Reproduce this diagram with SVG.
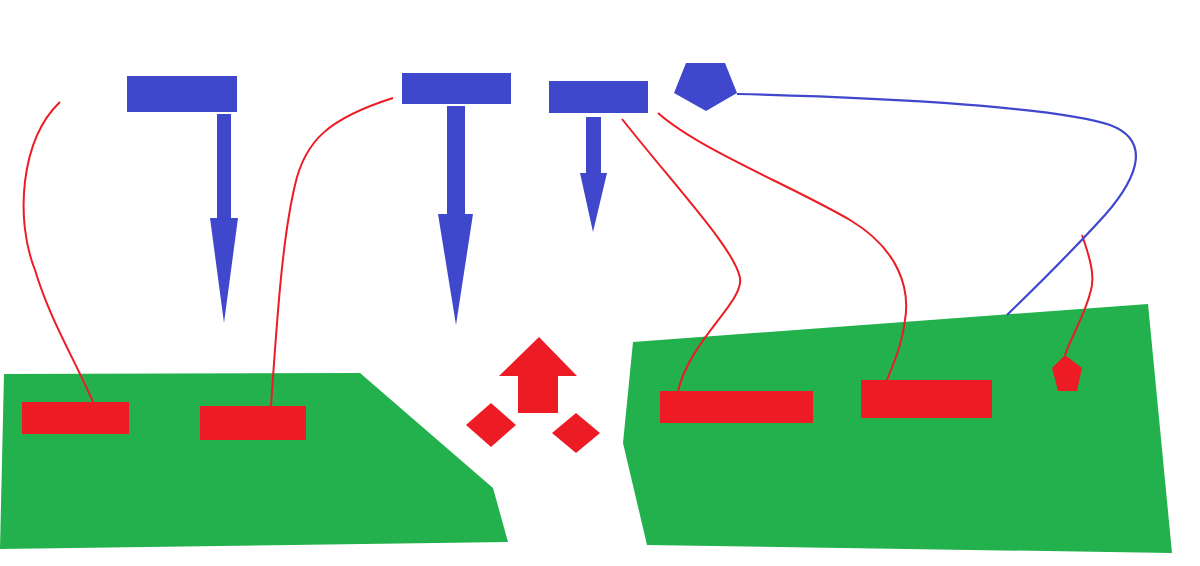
<svg xmlns="http://www.w3.org/2000/svg" width="1200" height="566" viewBox="0 0 1200 566">
<style>
.g{fill:#22B14C}
.r{fill:#ED1C24}
.b{fill:#3F48CC}
.rl{fill:none;stroke:#ED1C24;stroke-width:2}
.bl{fill:none;stroke:#3F48CC;stroke-width:2.2}
</style>
<rect width="1200" height="566" fill="#fff"/>
<g id="ground-left"><polygon class="g" points="4,374 360,373 493,488 508,542 0,549"/></g>
<g id="ground-right"><polygon class="g" points="633,342 1148,304 1172,553 647,545 623,443"/></g>
<g id="connectors">
<path class="rl" d="M60,102 C20,140 15,220 35,270 C50,320 75,360 93,402"/>
<path class="rl" d="M393,98 C330,118 305,140 295,185 C282,240 277,320 271,406"/>
<path class="rl" d="M622,119 C680,192 735,250 740,278 C744,302 690,340 678,391"/>
<path class="rl" d="M658,113 C700,150 790,185 850,220 C900,250 910,290 905,320 C902,345 893,365 887,380"/>
<path class="rl" d="M1082,235 C1090,258 1095,275 1091,290 C1085,315 1072,335 1065,355"/>
<path class="bl" d="M737,94 C900,98 1060,108 1110,125 C1150,140 1140,175 1105,215 C1075,248 1040,283 1007,315"/>
</g>
<g id="blue-block-1"><rect class="b" x="127" y="76" width="110" height="36"/></g>
<g id="blue-arrow-1"><polygon class="b" points="217,114 231,114 231,218 238,218 224,323 210,218 217,218"/></g>
<g id="blue-block-2"><rect class="b" x="402" y="73" width="109" height="31"/></g>
<g id="blue-arrow-2"><polygon class="b" points="447,106 465,106 465,214 473,214 456,325 438,214 447,214"/></g>
<g id="blue-block-3"><rect class="b" x="549" y="81" width="99" height="32"/></g>
<g id="blue-arrow-3"><polygon class="b" points="586,117 601,117 601,173 607,173 593,232 580,173 586,173"/></g>
<g id="blue-pentagon"><polygon class="b" points="686,63 725,63 737,93 706,111 674,93"/></g>
<g id="red-rect-1"><rect class="r" x="22" y="402" width="107" height="32"/></g>
<g id="red-rect-2"><rect class="r" x="200" y="406" width="106" height="34"/></g>
<g id="red-rect-3"><rect class="r" x="660" y="391" width="153" height="32"/></g>
<g id="red-rect-4"><rect class="r" x="861" y="380" width="131" height="38"/></g>
<g id="red-pentagon"><polygon class="r" points="1065,355 1082,368 1077,391 1058,391 1052,368"/></g>
<g id="red-up-arrow"><polygon class="r" points="539,337 577,376 558,376 558,413 518,413 518,376 499,376"/></g>
<g id="red-diamond-1"><polygon class="r" points="466,425 491,403 516,425 491,447"/></g>
<g id="red-diamond-2"><polygon class="r" points="552,433 576,413 600,433 576,453"/></g>
</svg>
